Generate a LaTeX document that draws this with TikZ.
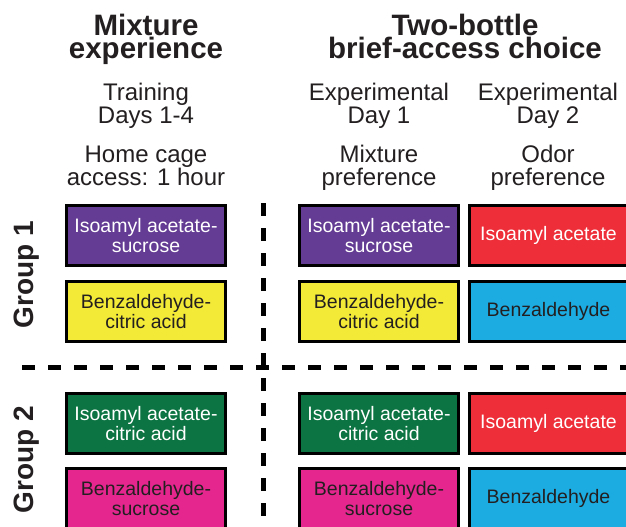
\documentclass[tikz,border=0pt]{standalone}
\usepackage{fontspec}
\setmainfont{Liberation Sans}
\definecolor{ink}{HTML}{231F20}
\definecolor{cPurple}{HTML}{643C94}
\definecolor{cYellow}{HTML}{F2EA36}
\definecolor{cRed}{HTML}{EE2E38}
\definecolor{cBlue}{HTML}{1CACE2}
\definecolor{cGreen}{HTML}{0C7442}
\definecolor{cPink}{HTML}{E5268F}
\begin{document}
\begin{tikzpicture}[x=1pt,y=-1pt,
  every node/.style={inner sep=0pt, outer sep=0pt, text=ink},
  title/.style={font=\bfseries\fontsize{29.5}{22.5}\selectfont, align=center, anchor=base},
  sub/.style={font=\fontsize{24}{23}\selectfont, align=center, anchor=base},
  grouplabel/.style={font=\bfseries\fontsize{28}{28}\selectfont, rotate=90, anchor=base},
  cell/.style={draw=black, line width=3pt, minimum width=159pt, minimum height=60pt,
    align=center, font=\fontsize{19.5}{19.5}\selectfont},
  light/.style={cell, text=white},
  dark/.style={cell, text=ink},
  divider/.style={line width=5pt, dash pattern=on 13pt off 13pt},
]
\useasboundingbox (0,0) rectangle (626,527);

% column headings (anchored on the baseline of their last line)
\node[title] (hmix) at (146,58.5) {Mixture\\experience};
\node[title] (htwo) at (465,58.5) {Two-bottle\\brief-access choice};
\node[sub] (train) at (146,123) {Training\\Days 1-4};
\node[sub] (exp1) at (379,123) {Experimental\\Day 1};
\node[sub] (exp2) at (548,123) {Experimental\\Day 2};
\node[sub] (home) at (146,185) {Home cage\\access: 1 hour};
\node[sub] (mixp) at (379,185) {Mixture\\preference};
\node[sub] (odorp) at (548,185) {Odor\\preference};

% row labels
\node[grouplabel] (g1) at (33,275) {Group 1};
\node[grouplabel] (g2) at (33,460) {Group 2};

% group 1
\node[light, fill=cPurple] (a1) at (146,235.5) {Isoamyl acetate-\\sucrose};
\node[dark, fill=cYellow] (a2) at (146,311.5) {Benzaldehyde-\\citric acid};
\node[light, fill=cPurple] (b1) at (379,235.5) {Isoamyl acetate-\\sucrose};
\node[dark, fill=cYellow] (b2) at (379,311.5) {Benzaldehyde-\\citric acid};
\node[light, fill=cRed] (c1) at (548.5,235.5) {Isoamyl acetate};
\node[dark, fill=cBlue] (c2) at (548.5,311.5) {Benzaldehyde};

% group 2
\node[light, fill=cGreen] (a3) at (146,423.5) {Isoamyl acetate-\\citric acid};
\node[dark, fill=cPink] (a4) at (146,498.5) {Benzaldehyde-\\sucrose};
\node[light, fill=cGreen] (b3) at (379,423.5) {Isoamyl acetate-\\citric acid};
\node[dark, fill=cPink] (b4) at (379,498.5) {Benzaldehyde-\\sucrose};
\node[light, fill=cRed] (c3) at (548.5,423.5) {Isoamyl acetate};
\node[dark, fill=cBlue] (c4) at (548.5,498.5) {Benzaldehyde};

% dashed dividers
\coordinate (vtop) at (263,203);
\coordinate (vbot) at (263,530);
\coordinate (hleft) at (22,367);
\coordinate (hright) at (630,367);
\draw[divider] (hleft) -- (hright);
\draw[divider, dash pattern=on 12.5pt off 12.5pt] (vtop) -- (vbot);
\end{tikzpicture}
\end{document}
